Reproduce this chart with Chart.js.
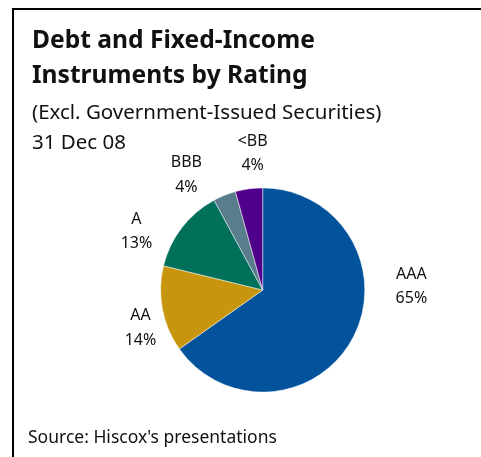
<!DOCTYPE html>
<html>
<head>
<meta charset="utf-8">
<script src="https://cdn.jsdelivr.net/npm/chart.js@4"></script>
<style>
  html, body { margin: 0; padding: 0; background: #fff; }
  #wrap { width: 481px; height: 457px; }
</style>
</head>
<body>
<div id="wrap"><canvas id="pieChart" width="481" height="457"></canvas></div>
<script>
// ratings and their share of the portfolio (slice sizes)
var ratings = ["AAA", "AA", "A", "BBB", "<BB"];
var shares = [65.2, 13.6, 13.3, 3.6, 4.3];
var sliceColors = ["#02529C", "#C8960E", "#00705A", "#5A7D8D", "#4F008B"];

var titleLines = ["Debt and Fixed-Income", "Instruments by Rating"];
var subLines = ["(Excl. Government-Issued Securities)", "31 Dec 08"];
var sourceText = "Source: Hiscox's presentations";

// where each label sits, as angle (deg, canvas) and distance in radii from the pie centre
var labelAngles = [-1.5, 162.8, 205.0, 236.5, 265.8];
var labelDist = [1.457, 1.253, 1.364, 1.354, 1.345];

var FONT = "'Noto Sans', 'Open Sans', sans-serif";

var decor = {
  id: "decor",
  afterDraw: function (chart) {
    var ctx = chart.ctx;
    ctx.save();
    // frame: left and top rules only
    ctx.fillStyle = "#000";
    ctx.fillRect(12, 8, 2, 457);
    ctx.fillRect(12, 8, 469, 2);

    ctx.fillStyle = "#111";
    ctx.textAlign = "left";
    ctx.textBaseline = "alphabetic";
    ctx.font = "bold 24.6px " + FONT;
    ctx.fillText(titleLines[0], 32, 48);
    ctx.fillText(titleLines[1], 32, 83);
    ctx.font = "20.5px " + FONT;
    ctx.fillText(subLines[0], 32, 118.5);
    ctx.fillText(subLines[1], 32, 148.5);
    ctx.font = "17.5px " + FONT;
    ctx.fillText(sourceText, 28, 443);

    // slice labels
    var meta = chart.getDatasetMeta(0);
    var data = chart.data.datasets[0].data;
    var total = data.reduce(function (a, b) { return a + b; }, 0);
    ctx.font = "16px " + FONT;
    ctx.textAlign = "center";
    ctx.textBaseline = "middle";
    meta.data.forEach(function (arc, i) {
      var a = labelAngles[i] * Math.PI / 180;
      var d = arc.outerRadius * labelDist[i];
      var x = arc.x + Math.cos(a) * d;
      var y = arc.y + Math.sin(a) * d;
      ctx.fillText(chart.data.labels[i], x, y - 12);
      ctx.fillText(Math.round(data[i] / total * 100) + "%", x, y + 12.5);
    });
    ctx.restore();
  }
};

new Chart("pieChart", {
  type: "pie",
  data: {
    labels: ratings,
    datasets: [{
      data: shares,
      backgroundColor: sliceColors,
      borderColor: "rgba(255,255,255,0.6)",
      borderWidth: 0.8
    }]
  },
  options: {
    responsive: false,
    animation: false,
    rotation: 0,
    layout: { padding: { left: 160.2, right: 115.8, top: 187.5, bottom: 64.5 } },
    plugins: {
      legend: { display: false },
      tooltip: { enabled: false }
    }
  },
  plugins: [decor]
});
</script>
</body>
</html>
